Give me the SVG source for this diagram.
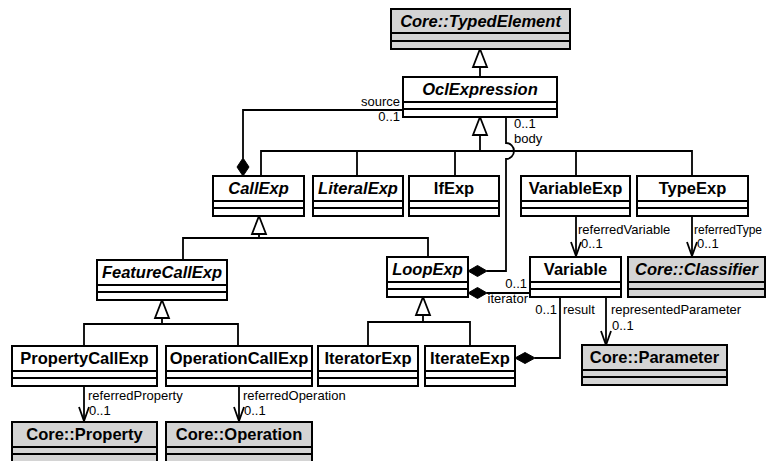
<svg xmlns="http://www.w3.org/2000/svg" width="766" height="461" viewBox="0 0 766 461">
<style>
.box{fill:#fff;stroke:#000;stroke-width:2}
.core{fill:#d4d4d4;stroke:#000;stroke-width:2}
.div{stroke:#000;stroke-width:2}
.name{font-family:"Liberation Sans",Arial,sans-serif;font-size:16.5px;font-weight:bold;text-anchor:middle;fill:#000}
.abs{font-style:italic}
.lbl{font-family:"Liberation Sans",Arial,sans-serif;font-size:13px;fill:#000}
.end{text-anchor:end}
.ln{fill:none;stroke:#000;stroke-width:1.8}
.tri{fill:#fff;stroke:#000;stroke-width:1.8}
.dia{fill:#000;stroke:#000;stroke-width:1}
</style>
<defs>
<marker id="open" viewBox="0 0 16 12" refX="15" refY="6" markerWidth="16" markerHeight="12" markerUnits="userSpaceOnUse" orient="auto">
<path d="M1 1 L15 6 L1 11" fill="none" stroke="#000" stroke-width="1.8"/>
</marker>
</defs>

<g id="connectors">
<path class="ln" d="M480 77 V67"/>
<path class="tri" d="M480 49 L487 67 H473 Z"/>
<path class="tri" d="M480 117 L487 135 H473 Z"/>
<path class="ln" d="M480 135 V151"/>
<path class="ln" d="M261 176 V151 H692 V176"/>
<path class="ln" d="M357 151 V176"/>
<path class="ln" d="M455 151 V176"/>
<path class="ln" d="M576 151 V176"/>
<path class="tri" d="M259 216 L266 234 H252 Z"/>
<path class="ln" d="M259 234 V238"/>
<path class="ln" d="M183 260 V238 H428 V257"/>
<path class="tri" d="M162 300 L169 318 H155 Z"/>
<path class="ln" d="M162 318 V324"/>
<path class="ln" d="M84 346 V324 H238 V346"/>
<path class="tri" d="M423 297 L430 315 H416 Z"/>
<path class="ln" d="M423 315 V322"/>
<path class="ln" d="M368 346 V322 H470 V346"/>
<path class="ln" d="M403 110 H243 V158"/>
<path class="dia" d="M243 158 L249 167 L243 176 L237 167 Z"/>
<path class="ln" d="M506 117 V143 A8 8 0 0 1 506 159 V271 H487"/>
<path class="dia" d="M468 271 L477.5 265.5 L487 271 L477.5 276.5 Z"/>
<path class="ln" d="M530 293 H487"/>
<path class="dia" d="M468 293 L477.5 287.5 L487 293 L477.5 298.5 Z"/>
<path class="ln" d="M560 297 V358 H535"/>
<path class="dia" d="M515 358 L525 352.5 L535 358 L525 363.5 Z"/>
<path class="ln" d="M576 216 V256" marker-end="url(#open)"/>
<path class="ln" d="M692 216 V256" marker-end="url(#open)"/>
<path class="ln" d="M606 297 V345" marker-end="url(#open)"/>
<path class="ln" d="M84 385 V421" marker-end="url(#open)"/>
<path class="ln" d="M239 385 V421" marker-end="url(#open)"/>
<text class="lbl end" x="400" y="106">source</text>
<text class="lbl end" x="400" y="121">0..1</text>
<text class="lbl" x="514" y="128">0..1</text>
<text class="lbl" x="514" y="143">body</text>
<text class="lbl" x="578" y="234">referredVariable</text>
<text class="lbl" x="581" y="248">0..1</text>
<text class="lbl" x="694" y="234" style="font-size:12px">referredType</text>
<text class="lbl" x="697" y="248">0..1</text>
<text class="lbl end" x="527" y="288">0..1</text>
<text class="lbl end" x="528" y="303">iterator</text>
<text class="lbl end" x="557" y="314">0..1</text>
<text class="lbl" x="563" y="314">result</text>
<text class="lbl" x="611" y="314">representedParameter</text>
<text class="lbl" x="612" y="330">0..1</text>
<text class="lbl" x="88" y="400">referredProperty</text>
<text class="lbl" x="89" y="415">0..1</text>
<text class="lbl" x="243" y="400">referredOperation</text>
<text class="lbl" x="244" y="415">0..1</text>
</g>

<g id="TypedElement">
<rect class="core" x="391" y="9" width="179" height="40"/>
<path class="div" d="M391 33 H570 M391 41 H570"/>
<text class="name abs" x="480.5" y="27">Core::TypedElement</text>
</g>
<g id="OclExpression">
<rect class="box" x="403" y="77" width="154" height="40"/>
<path class="div" d="M403 102 H557 M403 109 H557"/>
<text class="name abs" x="480" y="95">OclExpression</text>
</g>
<g id="CallExp">
<rect class="box" x="213" y="176" width="91" height="40"/>
<path class="div" d="M213 201 H304 M213 208 H304"/>
<text class="name abs" x="258.5" y="194">CallExp</text>
</g>
<g id="LiteralExp">
<rect class="box" x="313" y="176" width="90" height="40"/>
<path class="div" d="M313 201 H403 M313 208 H403"/>
<text class="name abs" x="358" y="194">LiteralExp</text>
</g>
<g id="IfExp">
<rect class="box" x="409" y="176" width="90" height="40"/>
<path class="div" d="M409 201 H499 M409 208 H499"/>
<text class="name" x="454" y="194">IfExp</text>
</g>
<g id="VariableExp">
<rect class="box" x="521" y="176" width="109" height="40"/>
<path class="div" d="M521 201 H630 M521 208 H630"/>
<text class="name" x="575.5" y="194">VariableExp</text>
</g>
<g id="TypeExp">
<rect class="box" x="637" y="176" width="111" height="40"/>
<path class="div" d="M637 201 H748 M637 208 H748"/>
<text class="name" x="692.5" y="194">TypeExp</text>
</g>
<g id="FeatureCallExp">
<rect class="box" x="97" y="260" width="130" height="40"/>
<path class="div" d="M97 285 H227 M97 292 H227"/>
<text class="name abs" x="162" y="278">FeatureCallExp</text>
</g>
<g id="LoopExp">
<rect class="box" x="387" y="257" width="81" height="40"/>
<path class="div" d="M387 282 H468 M387 289 H468"/>
<text class="name abs" x="427.5" y="275">LoopExp</text>
</g>
<g id="Variable">
<rect class="box" x="530" y="257" width="91" height="40"/>
<path class="div" d="M530 282 H621 M530 289 H621"/>
<text class="name" x="575.5" y="275">Variable</text>
</g>
<g id="Classifier">
<rect class="core" x="628" y="257" width="137" height="40"/>
<path class="div" d="M628 282 H765 M628 289 H765"/>
<text class="name abs" x="696.5" y="275">Core::Classifier</text>
</g>
<g id="PropertyCallExp">
<rect class="box" x="12" y="346" width="145" height="40"/>
<path class="div" d="M12 371 H157 M12 378 H157"/>
<text class="name" x="84.5" y="364">PropertyCallExp</text>
</g>
<g id="OperationCallExp">
<rect class="box" x="166" y="346" width="146" height="40"/>
<path class="div" d="M166 371 H312 M166 378 H312"/>
<text class="name" x="239" y="364">OperationCallExp</text>
</g>
<g id="IteratorExp">
<rect class="box" x="318" y="346" width="100" height="40"/>
<path class="div" d="M318 371 H418 M318 378 H418"/>
<text class="name" x="368" y="364">IteratorExp</text>
</g>
<g id="IterateExp">
<rect class="box" x="425" y="346" width="90" height="40"/>
<path class="div" d="M425 371 H515 M425 378 H515"/>
<text class="name" x="470" y="364">IterateExp</text>
</g>
<g id="Parameter">
<rect class="core" x="582" y="345" width="145" height="40"/>
<path class="div" d="M582 370 H727 M582 377 H727"/>
<text class="name" x="654.5" y="363">Core::Parameter</text>
</g>
<g id="Property">
<rect class="core" x="12" y="422" width="145" height="44"/>
<path class="div" d="M12 447 H157 M12 454 H157"/>
<text class="name" x="84.5" y="440">Core::Property</text>
</g>
<g id="Operation">
<rect class="core" x="166" y="422" width="146" height="44"/>
<path class="div" d="M166 447 H312 M166 454 H312"/>
<text class="name" x="239" y="440">Core::Operation</text>
</g>
</svg>
